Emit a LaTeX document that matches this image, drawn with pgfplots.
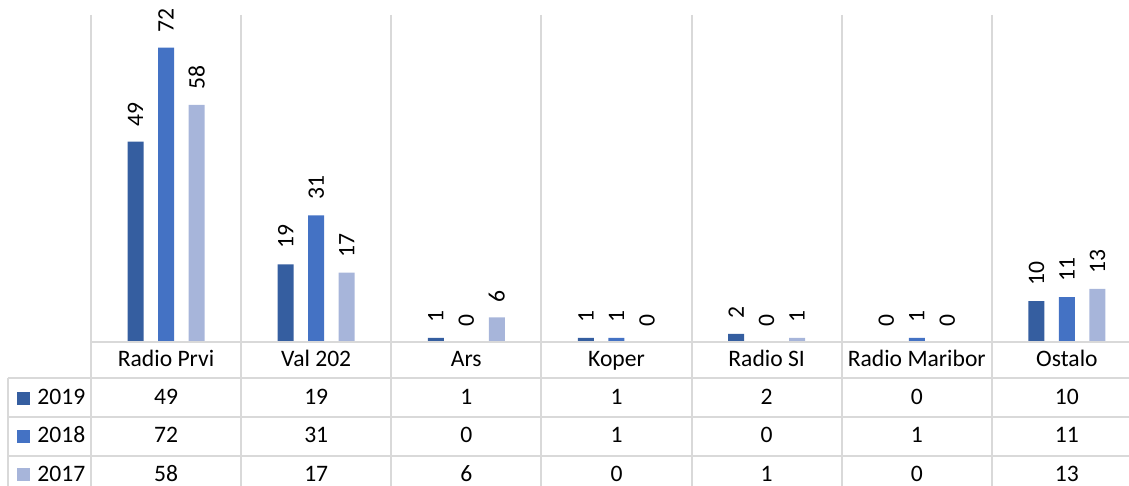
\documentclass[border=0pt]{standalone}
\usepackage{fontspec}
\setmainfont{Carlito}
\usepackage{pgfplots}
\usepackage{pgfplotstable}
\pgfplotsset{compat=1.18}

\definecolor{c19}{HTML}{355EA0}
\definecolor{c18}{HTML}{4472C4}
\definecolor{c17}{HTML}{A7B5DA}
\definecolor{gridc}{HTML}{D9D9D9}

% one row per station: 2019, 2018, 2017
\pgfplotstableread[col sep=comma]{
x,cat,y2019,y2018,y2017
0,Radio Prvi,49,72,58
1,Val 202,19,31,17
2,Ars,1,0,6
3,Koper,1,1,0
4,Radio SI,2,0,1
5,Radio Maribor,0,1,0
6,Ostalo,10,11,13
}\data

\begin{document}
\begin{tikzpicture}[font=\fontsize{11.8}{13}\selectfont]
\begin{axis}[
  at={(0,0)}, anchor=south west,
  scale only axis, width=525.5pt, height=163.5pt,
  xmin=-0.5, xmax=6.5, ymin=0, ymax=80,
  hide axis, clip=false,
  ybar, bar width=8pt,
  /pgf/number format/assume math mode=true,
  nodes near coords,
  every node near coord/.append style={rotate=90, anchor=west,
    inner xsep=7.5pt, inner ysep=0pt, text=black,
    font=\fontsize{11.8}{13}\selectfont},
]
\addplot[fill=c19, draw=none, bar shift=-15.25pt] table[x=x, y=y2019]{\data};
\addplot[fill=c18, draw=none, bar shift=0pt] table[x=x, y=y2018]{\data};
\addplot[fill=c17, draw=none, bar shift=15.25pt] table[x=x, y=y2017]{\data};
\end{axis}

% data table under the chart
\begin{scope}[gridc, line width=1pt]
  \foreach \k in {0,...,7}
    \draw ({\k*75.07pt},163.5pt) -- ({\k*75.07pt},-80pt);
  \draw (0,0) -- (530pt,0);
  \foreach \yy in {-18,-37.5,-57}
    \draw (-41.5pt,\yy pt) -- (530pt,\yy pt);
  \draw (-41.5pt,-18pt) -- (-41.5pt,-80pt);
\end{scope}

\foreach \i in {0,...,6}{
  \pgfplotstablegetelem{\i}{cat}\of\data
  \node[anchor=base, inner sep=0pt] at ({(\i+0.5)*75.07pt},-12.5pt) {\pgfplotsretval};
  \pgfplotstablegetelem{\i}{y2019}\of\data
  \node[anchor=base, inner sep=0pt] at ({(\i+0.5)*75.07pt},-31.5pt) {\pgfplotsretval};
  \pgfplotstablegetelem{\i}{y2018}\of\data
  \node[anchor=base, inner sep=0pt] at ({(\i+0.5)*75.07pt},-50.5pt) {\pgfplotsretval};
  \pgfplotstablegetelem{\i}{y2017}\of\data
  \node[anchor=base, inner sep=0pt] at ({(\i+0.5)*75.07pt},-70pt) {\pgfplotsretval};
}

\fill[c19] (-36.75pt,-31.75pt) rectangle +(6.5pt,6.5pt);
\fill[c18] (-36.75pt,-50.5pt) rectangle +(6.5pt,6.5pt);
\fill[c17] (-36.75pt,-69.75pt) rectangle +(6.5pt,6.5pt);
\node[anchor=base west, inner sep=0pt] at (-27pt,-31.5pt) {2019};
\node[anchor=base west, inner sep=0pt] at (-27pt,-50.5pt) {2018};
\node[anchor=base west, inner sep=0pt] at (-27pt,-70pt) {2017};

\pgfresetboundingbox
\path[use as bounding box] (-45.5pt,-72pt) rectangle (519pt,171pt);
\end{tikzpicture}
\end{document}
